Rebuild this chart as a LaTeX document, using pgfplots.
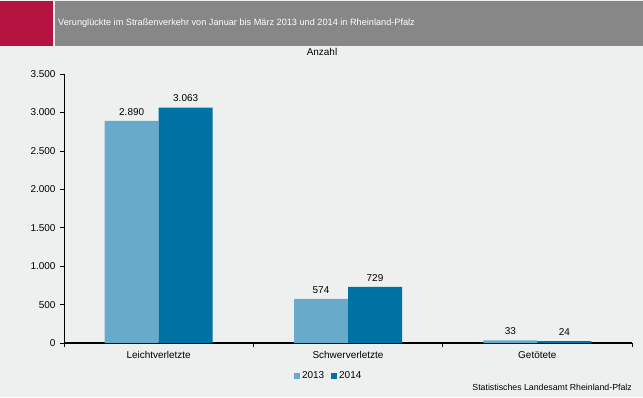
\documentclass[border=0pt]{standalone}
\usepackage{pgfplots}
\pgfplotsset{compat=1.18}
\usepackage{fontspec}
\setmainfont{Liberation Sans}
\definecolor{bgc}{HTML}{EEF0EF}
\definecolor{hdr}{HTML}{878787}
\definecolor{redb}{HTML}{B5123F}
\definecolor{c13}{HTML}{68AAC9}
\definecolor{c14}{HTML}{0071A3}
\begin{document}
\begin{tikzpicture}[x=1bp,y=1bp]
\fill[bgc] (0,0) rectangle (643,397);
\fill[redb] (0,396) rectangle (53,351);
\fill[hdr] (55,396) rectangle (643,351);
\node[anchor=west,text=white,font=\fontsize{9.2}{10}\selectfont,inner sep=0] at (58,374) {Verunglückte im Straßenverkehr von Januar bis März 2013 und 2014 in Rheinland-Pfalz};
\node[font=\fontsize{10}{11}\selectfont,inner sep=0] at (322,345) {Anzahl};
\begin{axis}[at={(64bp,54bp)},anchor=south west,
  scale only axis, width=568bp, height=269bp,
  xmin=-0.5, xmax=2.5, ymin=0, ymax=3500,
  axis x line=bottom, axis y line=left,
  axis line style={-},
  x axis line style={line width=1.6pt},
  y axis line style={line width=0.6pt},
  xtick={0,1,2}, xticklabels={Leichtverletzte,Schwerverletzte,Getötete},
  minor xtick={-0.5,0.5,1.5,2.5},
  major x tick style={draw=none},
  minor tick length=4bp, major tick length=4bp,
  tick align=outside,
  tick style={black,line width=0.6pt},
  ytick={0,500,...,3500},
  /pgf/number format/.cd,1000 sep={.},assume math mode=true,
  /pgfplots/.cd,
  ticklabel style={font=\fontsize{10}{11}\selectfont},
  yticklabel style={xshift=-1bp},
  xticklabel style={yshift=-1bp},
  ybar=0pt, bar width=54bp,
  nodes near coords,
  every node near coord/.append style={font=\fontsize{10}{11}\selectfont,/pgf/number format/1000 sep={.},yshift=2bp},
  legend style={at={(0.466,-0.1227)},anchor=center,draw=none,fill=none,
    legend columns=2,font=\fontsize{10}{11}\selectfont,inner sep=0pt,
    /tikz/every odd column/.append style={column sep=0bp},
    /tikz/every even column/.append style={column sep=5bp}},
  legend image code/.code={\fill[#1] (4bp,-3bp) rectangle (10bp,3bp);},
]
\addplot[fill=c13,draw=none] coordinates {(0,2890) (1,574) (2,33)};
\addplot[fill=c14,draw=none] coordinates {(0,3063) (1,729) (2,24)};
\legend{2013,2014}
\end{axis}
\node[anchor=east,font=\fontsize{8.8}{10}\selectfont,inner sep=0] at (632,10) {Statistisches Landesamt Rheinland-Pfalz};
\end{tikzpicture}
\end{document}
